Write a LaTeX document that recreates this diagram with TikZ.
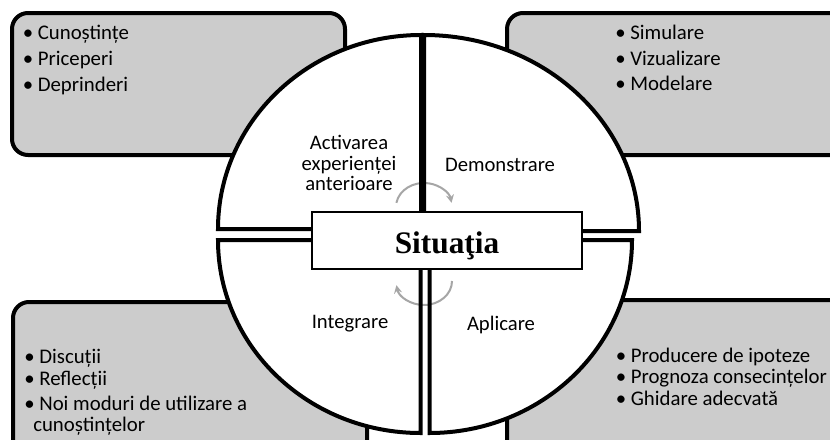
\documentclass[tikz,border=0pt]{standalone}
\usepackage{fontspec}
\setmainfont{Liberation Serif}
\newfontfamily\calibri{Carlito}
\usetikzlibrary{arrows.meta}

\begin{document}
\begin{tikzpicture}[x=0.75pt,y=-0.75pt,
  infobox/.style={draw,line width=3pt,fill=black!20,rounded corners=12pt},
  sector/.style={draw,line width=3pt},
  item/.style={font=\calibri\fontsize{15.6}{18}\selectfont,inner sep=0pt,anchor=base west},
  phase/.style={font=\calibri\fontsize{15.5}{15.6}\selectfont,align=center,inner sep=0pt},
  turn/.style={draw=black!35,line width=1.5pt,-{Stealth[length=6pt,width=6pt]}},
  centrebox/.style={draw,fill=white,line width=0.8pt,minimum width=202.5pt,minimum height=42.75pt,
    font=\bfseries\fontsize{23.5}{24}\selectfont,text height=18.8pt,text depth=0pt}]
\useasboundingbox (0,0) rectangle (830,439);

% boxes behind the circle
\draw[infobox] (12,13) rectangle (345,155);
\draw[infobox] (507,13) rectangle (850,155);
\draw[infobox] (13,302) rectangle (367,460);
\draw[infobox] (507,300) rectangle (850,460);

\foreach \txt [count=\i] in {Cunoștințe,Priceperi,Deprinderi}
  \node[item] (know\i) at (22.5,13+26*\i) {• \txt};
\foreach \txt [count=\i] in {Simulare,Vizualizare,Modelare}
  \node[item] (show\i) at (615,14+25.5*\i) {• \txt};
\foreach \txt [count=\i] in {Producere de ipoteze,Prognoza consecințelor,Ghidare adecvată}
  \node[item] (use\i) at (615.5,340.5+21.5*\i) {• \txt};
\node[item] (talk1) at (24,363) {• Discuții};
\node[item] (talk2) at (24,385) {• Reflecții};
\node[item] (talk3) at (24,410) {• Noi moduri de utilizare a};
\node[item] (talk4) at (33,431) {cunoștințelor};

% four quarters
\def\quads{421/229/180/270/203/194, 424/231/270/360/215/196, 420.5/240/180/90/202.5/193, 429.5/240/90/0/202.5/193}
\foreach \cx/\cy/\a/\b/\rx/\ry in \quads
  \fill[white] (\cx,\cy) -- ({\cx+\rx*cos(\a)},{\cy+\ry*sin(\a)}) arc[start angle=\a,end angle=\b,x radius=\rx,y radius=\ry] -- cycle;

\draw[turn] (396.4,202.8) arc[start angle=190,end angle=350,x radius=28,y radius=24];
\draw[turn] (452,281) arc[start angle=0,end angle=170,x radius=28,y radius=24];

\foreach \cx/\cy/\a/\b/\rx/\ry in \quads
  \draw[sector] (\cx,\cy) -- ({\cx+\rx*cos(\a)},{\cy+\ry*sin(\a)}) arc[start angle=\a,end angle=\b,x radius=\rx,y radius=\ry] -- cycle;

\node[phase] (activ) at (349,163) {Activarea\\experienței\\anterioare};
\node[phase,anchor=base] (demo) at (500,171) {Demonstrare};
\node[phase,anchor=base] (integ) at (350,328) {Integrare};
\node[phase,anchor=base] (aplic) at (501,330) {Aplicare};

\node[centrebox] (sit) at (447,240.5) {Situaţia};
\end{tikzpicture}
\end{document}
